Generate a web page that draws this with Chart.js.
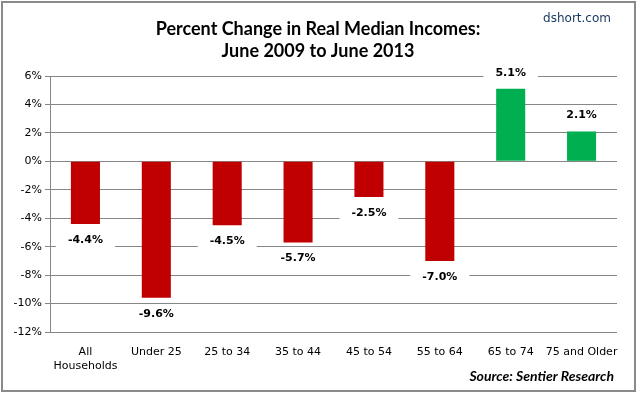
<!DOCTYPE html>
<html>
<head>
<meta charset="utf-8">
<script src="https://cdn.jsdelivr.net/npm/chart.js@4"></script>
<style>
  html, body { margin: 0; padding: 0; background: #fff; }
  #wrap { width: 638px; height: 394px; position: relative; }
</style>
</head>
<body>
<div id="wrap"><canvas id="chart" width="638" height="394"></canvas></div>
<script>
// data
const categories = [['All', 'Households'], 'Under 25', '25 to 34', '35 to 44', '45 to 54', '55 to 64', '65 to 74', '75 and Older'];
const changes = [-4.4, -9.6, -4.5, -5.7, -2.5, -7.0, 5.1, 2.1];
const titleLines = ['Percent Change in Real Median Incomes:', 'June 2009 to June 2013'];

const RED = '#C00000';
const GREEN = '#00B050';
const GRID = '#868686';

// titles, watermark, source and frame
const decorations = {
    id: 'decorations',
    beforeDraw(chart) {
        const ctx = chart.ctx;
        ctx.save();
        ctx.fillStyle = '#fff';
        ctx.fillRect(0, 0, chart.width, chart.height);
        ctx.restore();
    },
    afterDraw(chart) {
        const ctx = chart.ctx;
        ctx.save();
        ctx.strokeStyle = '#8a8a8a';
        ctx.lineWidth = 2;
        ctx.strokeRect(2, 2, chart.width - 5, chart.height - 5);

        ctx.fillStyle = '#000';
        ctx.textAlign = 'center';
        ctx.textBaseline = 'middle';
        ctx.font = 'bold 18px Lato, "Open Sans", sans-serif';
        ctx.fillText(titleLines[0], 318, 29);
        ctx.fillText(titleLines[1], 318, 51);

        ctx.fillStyle = '#17375e';
        ctx.font = '12px "DejaVu Sans", sans-serif';
        ctx.textAlign = 'right';
        ctx.fillText('dshort.com', 611, 19);

        ctx.fillStyle = '#000';
        ctx.font = 'italic bold 14px Lato, "Open Sans", sans-serif';
        ctx.fillText('Source: Sentier Research', 614, 376);
        ctx.restore();
    }
};

// value labels with white box
const valueLabels = {
    id: 'valueLabels',
    afterDatasetsDraw(chart) {
        const ctx = chart.ctx;
        const meta = chart.getDatasetMeta(0);
        ctx.save();
        ctx.font = 'bold 11px "DejaVu Sans", sans-serif';
        ctx.textAlign = 'center';
        ctx.textBaseline = 'middle';
        meta.data.forEach((bar, i) => {
            const v = changes[i];
            const text = v.toFixed(1) + '%';
            const y = v < 0 ? bar.y + 16 : bar.y - 16;
            const w = ctx.measureText(text).width + 8;
            ctx.fillStyle = '#fff';
            ctx.fillRect(bar.x - w / 2 - 8, y - 9, w + 16, 18);
            ctx.fillStyle = '#000';
            ctx.fillText(text, bar.x, y);
        });
        ctx.restore();
    }
};

new Chart(document.getElementById('chart'), {
    type: 'bar',
    data: {
        labels: categories,
        datasets: [{
            data: changes,
            backgroundColor: changes.map(v => v < 0 ? RED : GREEN),
            borderWidth: 0,
            barPercentage: 0.41,
            categoryPercentage: 1
        }]
    },
    options: {
        responsive: false,
        animation: false,
        events: [],
        layout: { padding: { left: 0, top: 76, right: 21, bottom: 0 } },
        plugins: {
            legend: { display: false },
            tooltip: { enabled: false },
            title: { display: false }
        },
        scales: {
            x: {
                grid: { display: false, drawTicks: false },
                border: { display: false },
                ticks: {
                    color: '#000',
                    font: { family: '"DejaVu Sans", sans-serif', size: 11, lineHeight: 1.3 },
                    padding: 13,
                    maxRotation: 0,
                    autoSkip: false
                },
                afterFit(scale) { scale.height = 62; }
            },
            y: {
                min: -12,
                max: 6,
                ticks: {
                    stepSize: 2,
                    color: '#000',
                    font: { family: '"DejaVu Sans", sans-serif', size: 11 },
                    padding: 3,
                    callback: v => v + '%'
                },
                grid: { color: GRID, lineWidth: 1, tickLength: 5 },
                border: { color: GRID, width: 1 },
                afterFit(scale) { scale.width = 50; }
            }
        }
    },
    plugins: [decorations, valueLabels]
});
</script>
</body>
</html>
